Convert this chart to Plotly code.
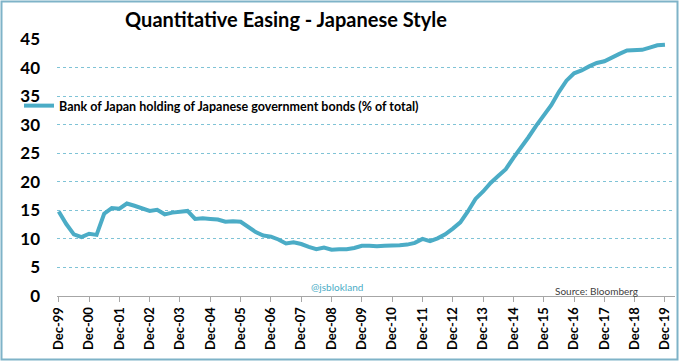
import plotly.graph_objects as go
import pandas as pd

dates = pd.date_range("1999-12-31", "2019-12-31", freq="QE").strftime("%Y-%m-%d").tolist()
boj_share = [
    14.8, 12.6, 10.8, 10.3, 10.9, 10.7, 14.4, 15.4, 15.3, 16.2,
    15.8, 15.3, 14.9, 15.1, 14.3, 14.6, 14.7, 14.9, 13.5, 13.6,
    13.5, 13.4, 13.0, 13.1, 13.0, 12.1, 11.2, 10.6, 10.4, 9.9,
    9.2, 9.4, 9.1, 8.6, 8.2, 8.5, 8.1, 8.2, 8.2, 8.4,
    8.8, 8.8, 8.7, 8.8, 8.8, 8.9, 9.0, 9.3, 10.0, 9.6,
    10.1, 10.8, 11.8, 12.9, 14.8, 17.0, 18.3, 19.8, 21.0, 22.2,
    24.2, 25.9, 27.8, 29.8, 31.7, 33.4, 35.7, 37.7, 39.0, 39.5,
    40.2, 40.8, 41.1, 41.8, 42.4, 43.0, 43.1, 43.1, 43.5, 43.9,
    44.0,
]
tick_dates = [f"{y}-12-31" for y in range(1999, 2020)]
tick_labels = [f"Dec-{str(y)[2:]}" for y in range(1999, 2020)]
y_ticks = [0, 5, 10, 15, 20, 25, 30, 35, 40, 45]

series_name = "Bank of Japan holding of Japanese government bonds (% of total)"
title_text = "Quantitative Easing - Japanese Style"
watermark = "@jsblokland"
source_text = "Source: Bloomberg"

FONT = "Lato"
LINE = "#4BACC6"
W, H = 679, 361
pl, pr, pt, pb = 57, 675, 39, 296


def px_x(x):
    return (x - pl) / (pr - pl)


def px_y(y):
    return (pb - y) / (pb - pt)


fig = go.Figure()
fig.add_trace(go.Scatter(
    x=dates, y=boj_share, mode="lines", name=f"<b>{series_name}</b>",
    line=dict(color=LINE, width=4),
))

fig.update_layout(
    width=W, height=H,
    margin=dict(l=pl, r=W - pr, t=pt, b=H - pb, autoexpand=False),
    paper_bgcolor="white", plot_bgcolor="white",
    font=dict(family=FONT, color="#000000"),
    title=dict(text=f"<b>{title_text}</b>", x=px_x(286), xref="paper", xanchor="center",
               y=1 - 20 / H, yref="container", yanchor="middle",
               font=dict(size=20, family=FONT, color="#000000")),
    showlegend=True,
    legend=dict(x=px_x(19), xref="paper", y=px_y(106), yref="paper",
                yanchor="middle", xanchor="left", bgcolor="rgba(0,0,0,0)",
                font=dict(size=12.5, family=FONT, color="#000000")),
)

fig.update_xaxes(
    range=["1999-12-10", "2020-04-30"],
    tickvals=tick_dates, ticktext=[f"<b>{t}</b>" for t in tick_labels],
    tickangle=-90, tickfont=dict(size=13, family=FONT, color="#000000"),
    showline=True, linecolor="#A6A6A6", linewidth=1,
    ticks="outside", tickcolor="#A6A6A6", ticklen=5,
    showgrid=False, zeroline=False, automargin=False,
)
fig.update_yaxes(
    range=[0, 45], tickvals=y_ticks, ticktext=[f"<b>{v}</b>" for v in y_ticks],
    tickfont=dict(size=17, family=FONT, color="#000000"),
    showgrid=True, gridcolor="#7FC3D6", griddash="dot", gridwidth=1,
    zeroline=False, showline=False, ticklabelstandoff=16, automargin=False,
)

fig.add_annotation(text=watermark, x=px_x(337), y=px_y(287), xref="paper", yref="paper",
                   xanchor="center", yanchor="middle",
                   showarrow=False, font=dict(size=10, family=FONT, color=LINE))
fig.add_annotation(text=source_text, x=px_x(596), y=px_y(291), xref="paper", yref="paper",
                   xanchor="center", yanchor="middle",
                   showarrow=False, font=dict(size=10, family=FONT, color="#404040"))

fig.add_shape(type="rect", xref="paper", yref="paper",
              x0=px_x(1.5), x1=px_x(677.5), y0=px_y(359.5), y1=px_y(1.5),
              line=dict(color="#7FB3C8", width=2), fillcolor="rgba(0,0,0,0)",
              layer="above")

fig.write_html("out.html", config={"displayModeBar": False},
               post_script="document.body.style.margin='0';document.body.style.overflow='hidden';")
